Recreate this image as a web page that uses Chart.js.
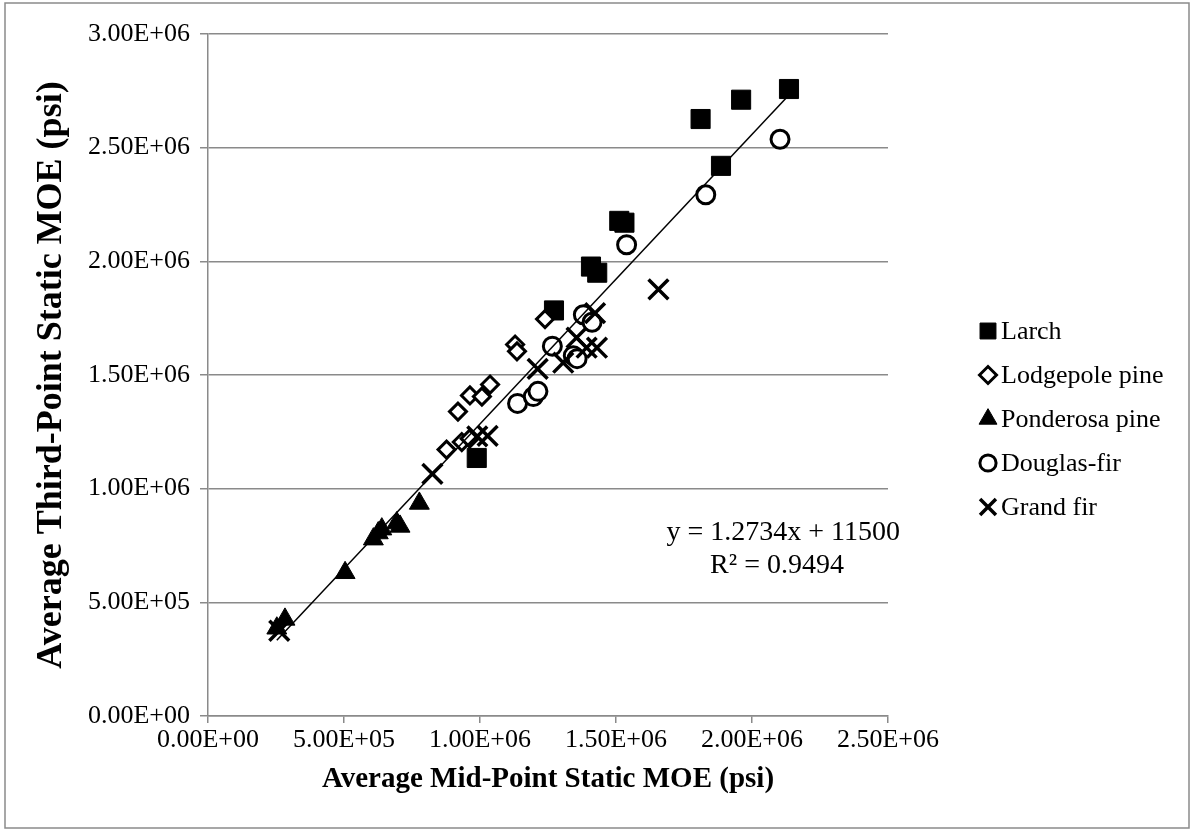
<!DOCTYPE html>
<html>
<head>
<meta charset="utf-8">
<script src="https://cdn.jsdelivr.net/npm/chart.js@4.4.1/dist/chart.umd.min.js"></script>
<style>
  html, body { margin: 0; padding: 0; background: #fff; }
  #wrap { width: 1195px; height: 833px; position: relative; }
</style>
</head>
<body>
<div id="wrap"><canvas id="c" width="1195" height="833"></canvas></div>
<script>
// ---- data ----
const seriesNames = ['Larch', 'Lodgepole pine', 'Ponderosa pine', 'Douglas-fir', 'Grand fir'];

const larchX = [988000, 1272000, 1408000, 1431000, 1512000, 1531000, 1811000, 1886000, 1960000, 2136000];
const larchY = [1135000, 1784000, 1977000, 1950000, 2178000, 2170000, 2626000, 2420000, 2711000, 2758000];

const lodgepoleX = [877000, 933000, 962000, 919000, 963000, 1007000, 1037000, 1129000, 1136000, 1239000];
const lodgepoleY = [1172000, 1205000, 1220000, 1339000, 1410000, 1405000, 1458000, 1634000, 1604000, 1746000];

const ponderosaX = [253000, 283000, 504000, 608000, 626000, 639000, 694000, 706000, 777000];
const ponderosaY = [386000, 425000, 630000, 778000, 805000, 822000, 849000, 834000, 935000];

const douglasX = [1138000, 1196000, 1213000, 1266000, 1343000, 1357000, 1380000, 1412000, 1539000, 1830000, 2103000];
const douglasY = [1375000, 1405000, 1428000, 1627000, 1585000, 1572000, 1765000, 1732000, 2073000, 2293000, 2537000];

const grandFirX = [262000, 825000, 990000, 1028000, 1212000, 1306000, 1355000, 1392000, 1430000, 1423000, 1656000];
const grandFirY = [375000, 1065000, 1230000, 1232000, 1527000, 1554000, 1664000, 1620000, 1620000, 1772000, 1877000];

// linear trendline (shown on the chart)
const trendSlope = 1.2734;
const trendIntercept = 11500;
const trendR2 = 0.9494;
const trendRangeX = [253000, 2136000];

const xTickRange = [0, 2500000, 500000];
const yTickRange = [0, 3000000, 500000];

const xTitle = 'Average Mid-Point Static MOE (psi)';
const yTitle = 'Average Third-Point Static MOE (psi)';

// ---- helpers ----
function pts(xs, ys) { return xs.map((x, i) => ({ x: x, y: ys[i] })); }
function sci(v) {
  const parts = Number(v).toExponential(2).split('e');
  const n = parseInt(parts[1], 10);
  return parts[0] + 'E' + (n < 0 ? '-' : '+') + String(Math.abs(n)).padStart(2, '0');
}

const FONT = "'Liberation Serif', 'Times New Roman', serif";
const GRID = '#8a8a8a';

const datasets = [
  { label: seriesNames[0], data: pts(larchX, larchY), pointStyle: 'rect', pointRadius: 13.5,
    backgroundColor: '#000', borderColor: '#000', pointBorderWidth: 1, order: 6 },
  { label: seriesNames[1], data: pts(lodgepoleX, lodgepoleY), pointStyle: 'rectRot', pointRadius: 8.5,
    backgroundColor: '#fff', borderColor: '#000', pointBorderWidth: 3, order: 5 },
  { label: seriesNames[2], data: pts(ponderosaX, ponderosaY), pointStyle: 'triangle', pointRadius: 11.5,
    backgroundColor: '#000', borderColor: '#000', pointBorderWidth: 1, order: 4 },
  { label: seriesNames[3], data: pts(douglasX, douglasY), pointStyle: 'circle', pointRadius: 9,
    backgroundColor: '#fff', borderColor: '#000', pointBorderWidth: 3, order: 3 },
  { label: seriesNames[4], data: pts(grandFirX, grandFirY), pointStyle: 'crossRot', pointRadius: 14,
    backgroundColor: '#000', borderColor: '#000', pointBorderWidth: 3.5, order: 2 },
  { label: 'trend', data: trendRangeX.map(x => ({ x: x, y: trendSlope * x + trendIntercept })),
    showLine: true, pointRadius: 0, borderColor: '#000', borderWidth: 1.5, fill: false, order: 1, isTrend: true }
];

const frameAndText = {
  id: 'frameAndText',
  beforeDraw(chart) {
    const ctx = chart.ctx;
    ctx.save();
    ctx.fillStyle = '#fff';
    ctx.fillRect(0, 0, chart.width, chart.height);
    ctx.strokeStyle = '#8a8a8a';
    ctx.lineWidth = 1.5;
    ctx.strokeRect(5, 3, 1184, 825);
    ctx.restore();
  },
  afterDraw(chart) {
    const ctx = chart.ctx;
    ctx.save();
    // legend
    const rowY0 = 331, rowStep = 44, markX = 988, textX = 1001;
    ctx.font = '26px ' + FONT;
    ctx.textBaseline = 'middle';
    ctx.textAlign = 'left';
    let row = 0;
    chart.data.datasets.forEach((ds) => {
      if (ds.isTrend) return;
      const y = rowY0 + row * rowStep;
      ctx.fillStyle = ds.backgroundColor;
      ctx.strokeStyle = ds.borderColor;
      ctx.lineWidth = ds.pointBorderWidth;
      Chart.helpers.drawPoint(ctx, { pointStyle: ds.pointStyle, radius: Math.min(ds.pointRadius, 12.5) * (ds.pointStyle === 'rectRot' ? 1 : 0.9), rotation: 0, borderWidth: ds.pointBorderWidth }, markX, y);
      ctx.fillStyle = '#000';
      ctx.fillText(ds.label, textX, y + 1);
      row++;
    });
    // trendline equation
    ctx.font = '28px ' + FONT;
    ctx.fillStyle = '#000';
    ctx.textAlign = 'right';
    ctx.fillText('y = ' + trendSlope + 'x + ' + trendIntercept, 900, 533);
    ctx.textAlign = 'center';
    ctx.fillText('R\u00B2 = ' + trendR2, 777, 566);
    ctx.restore();
  }
};

new Chart(document.getElementById('c'), {
  type: 'scatter',
  data: { datasets: datasets },
  options: {
    responsive: false,
    animation: false,
    events: [],
    layout: { padding: { left: 0, top: 34, right: 307, bottom: 0 } },
    plugins: { legend: { display: false }, tooltip: { enabled: false } },
    scales: {
      x: {
        type: 'linear', min: xTickRange[0], max: xTickRange[1],
        afterFit: (s) => { s.height = 833 - 716; },
        ticks: { stepSize: xTickRange[2], callback: (v) => sci(v), color: '#000',
                 font: { family: FONT, size: 26 }, padding: 2, maxRotation: 0, autoSkip: false },
        grid: { drawOnChartArea: false, drawTicks: true, tickLength: 7, color: GRID, lineWidth: 1.5 },
        border: { display: true, color: GRID, width: 1.5 },
        title: { display: true, text: xTitle, color: '#000',
                 font: { family: FONT, size: 29, weight: 'bold' }, padding: { top: 0, bottom: 36 } }
      },
      y: {
        type: 'linear', min: yTickRange[0], max: yTickRange[1],
        afterFit: (s) => { s.width = 208; },
        ticks: { stepSize: yTickRange[2], callback: (v) => sci(v), color: '#000',
                 font: { family: FONT, size: 26 }, padding: 10, autoSkip: false },
        grid: { drawOnChartArea: true, drawTicks: true, tickLength: 8, color: GRID, lineWidth: 1.5 },
        border: { display: true, color: GRID, width: 1.5 },
        title: { display: true, text: yTitle, color: '#000',
                 font: { family: FONT, size: 36, weight: 'bold' }, padding: { top: 30, bottom: 0 } }
      }
    }
  },
  plugins: [frameAndText]
});
</script>
</body>
</html>
